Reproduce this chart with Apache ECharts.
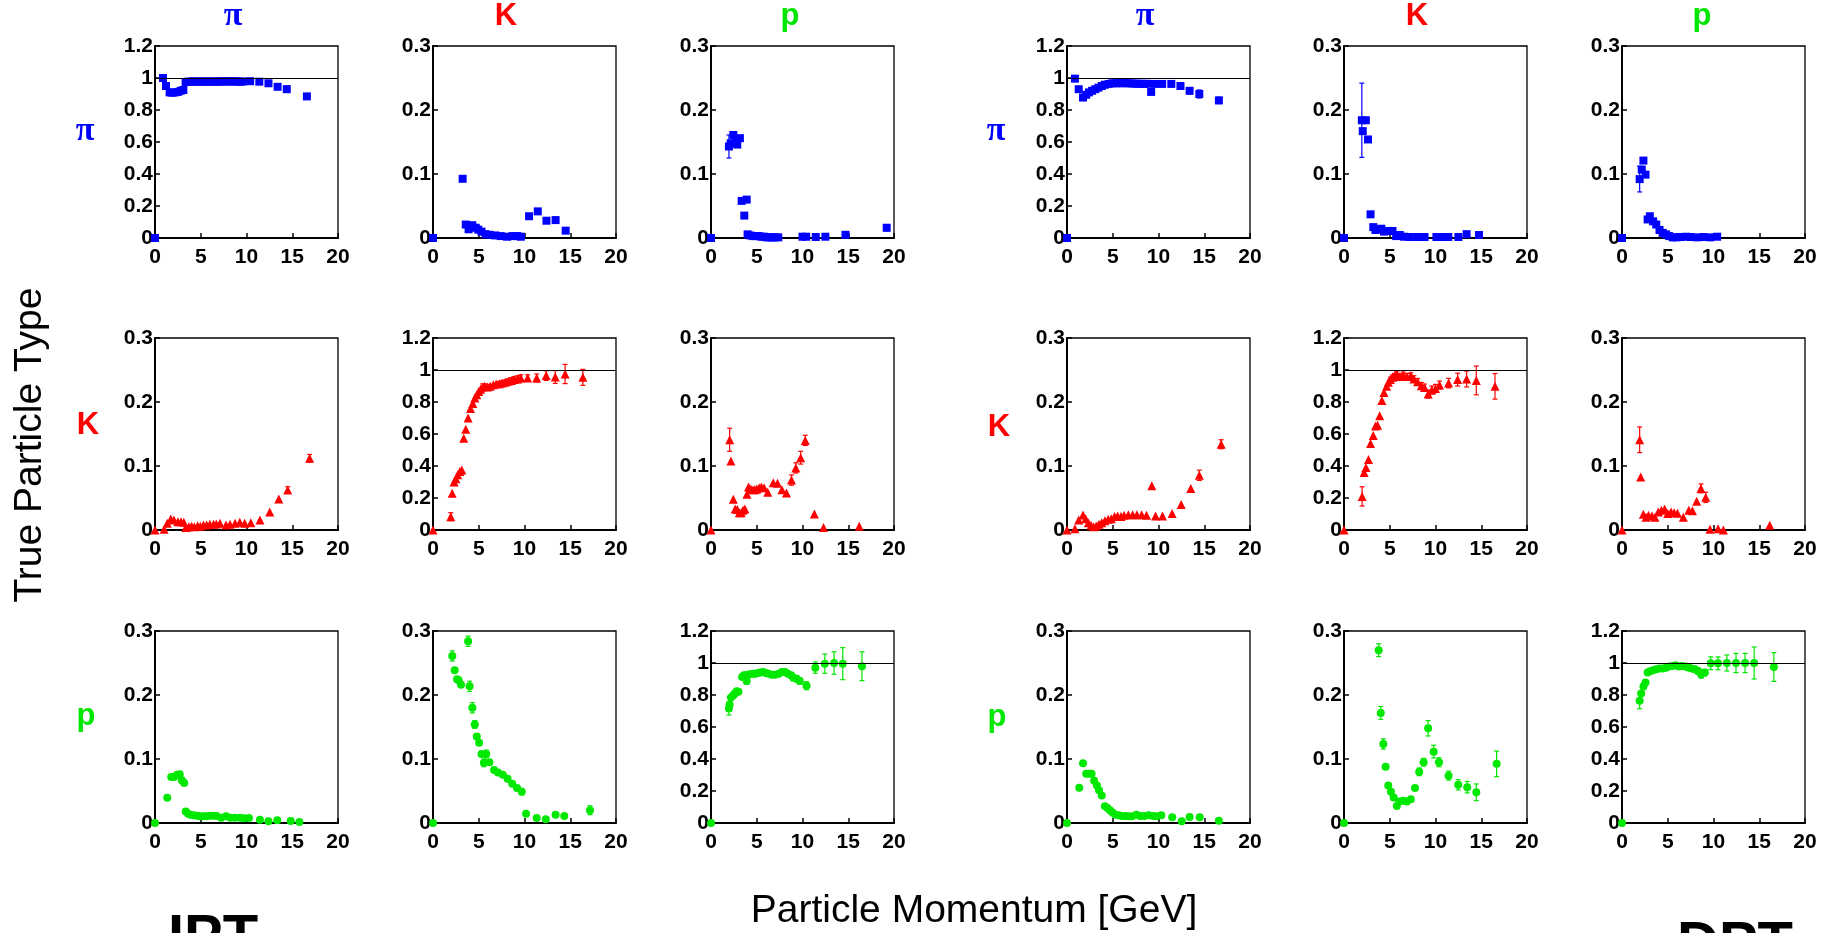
<!DOCTYPE html>
<html><head><meta charset="utf-8">
<script src="https://cdn.jsdelivr.net/npm/echarts@6/dist/echarts.min.js"></script>
<style>html,body{margin:0;padding:0;background:#fff}#c{width:1835px;height:933px}</style>
</head><body><div id="c"></div>
<script>
// ---- tick / label definitions ----
const xRange = [0, 20];
const xInterval = 5;
const yRangeDiag = [0, 1.2];
const yIntervalDiag = 0.2;
const yRangeOff = [0, 0.3];
const yIntervalOff = 0.1;
const particleLabels = ['π', 'K', 'p'];
const particleColors = ['#0000ff', '#ff0000', '#00e800'];
const particleSymbols = ['rect', 'triangle', 'circle'];
const methodLabels = ['IPT', 'DPT'];
const xTitle = 'Particle Momentum [GeV]';
const yTitle = 'True Particle Type';

// ---- data: [momentum, fraction, error] ; rows = true type, cols = identified type ----
const IPT_pi_pi = [[0,0],[0.87,1.0],[1.2,0.95],[1.6,0.91],[1.9,0.908],[2.2,0.91],[2.5,0.913],[2.8,0.92],[3.1,0.925],[3.35,0.975],[3.6,0.977],[3.85,0.977],[4.1,0.978],[4.35,0.978],[4.6,0.977],[4.85,0.978],[5.1,0.978],[5.35,0.977],[5.6,0.978],[5.85,0.978],[6.1,0.978],[6.35,0.977],[6.6,0.978],[6.85,0.978],[7.1,0.978],[7.35,0.979],[7.6,0.979],[7.85,0.978],[8.1,0.979],[8.35,0.98],[8.6,0.978],[8.85,0.979],[9.1,0.978],[9.35,0.977],[9.6,0.978],[10.4,0.98],[11.4,0.977],[12.4,0.967],[13.4,0.945,0.015],[14.4,0.93,0.02],[16.6,0.885,0.015]];
const IPT_pi_K = [[0,0],[3.24,0.0925],[3.58,0.021,0.004],[3.89,0.0136],[4.3,0.02],[4.67,0.016],[4.95,0.013],[5.3,0.01],[5.75,0.006],[6.2,0.005],[6.8,0.004],[7.4,0.003],[8.1,0.002],[8.7,0.003],[9.2,0.003],[9.6,0.002],[10.5,0.034],[11.45,0.0416],[12.4,0.027],[13.4,0.028,0.004],[14.5,0.0115]];
const IPT_pi_p = [[0,0],[1.96,0.143,0.018],[2.15,0.148],[2.44,0.161],[2.7,0.154],[2.87,0.146],[3.16,0.156],[3.35,0.058],[3.64,0.035],[3.9,0.06],[4.0,0.0057],[4.3,0.004],[4.6,0.003],[4.9,0.003],[5.2,0.003],[5.5,0.002],[5.8,0.002],[6.1,0.001],[6.4,0.001],[6.7,0.001],[7.0,0.001],[7.35,0.001],[10.0,0.002],[10.4,0.002],[11.45,0.0016],[12.5,0.002],[14.7,0.005],[19.2,0.016,0.005]];
const IPT_K_pi = [[0,0],[1.0,0.001],[1.34,0.0104],[1.72,0.017],[2.07,0.0157],[2.5,0.013],[2.84,0.013],[3.15,0.012],[3.36,0.004],[3.7,0.005],[4.0,0.006],[4.3,0.005],[4.66,0.0068],[4.96,0.006],[5.3,0.0078],[5.65,0.0078],[6.0,0.009],[6.4,0.009],[6.7,0.0094],[7.1,0.0104],[7.76,0.0078],[8.2,0.009],[8.75,0.0104],[9.27,0.012],[9.8,0.0104],[10.47,0.0115],[11.47,0.0157],[12.54,0.028],[13.53,0.0485],[14.5,0.0626,0.005],[16.9,0.112,0.006]];
const IPT_K_K = [[0,0],[1.94,0.083,0.025],[2.1,0.23],[2.3,0.30],[2.5,0.32],[2.7,0.345],[2.93,0.365],[3.15,0.375],[3.36,0.574],[3.58,0.63],[3.84,0.70],[4.1,0.76],[4.35,0.79],[4.57,0.825],[4.78,0.845],[5.0,0.866],[5.2,0.88],[5.43,0.893,0.02],[5.65,0.898,0.015],[5.95,0.893],[6.25,0.898,0.012],[6.6,0.908],[6.9,0.912],[7.24,0.914,0.014],[7.54,0.918,0.014],[7.9,0.923,0.015],[8.23,0.929,0.016],[8.58,0.935,0.017],[8.9,0.94,0.018],[9.27,0.944,0.02],[9.6,0.95,0.02],[10.34,0.95,0.02],[11.33,0.95,0.025],[12.37,0.965,0.03],[13.36,0.956,0.04],[14.44,0.975,0.06],[16.38,0.954,0.05]];
const IPT_K_p = [[0,0],[2.04,0.141,0.018],[2.18,0.108],[2.44,0.048],[2.65,0.033],[2.87,0.032],[3.1,0.027],[3.3,0.027],[3.5,0.031],[3.7,0.033],[3.93,0.056],[4.1,0.067],[4.36,0.064],[4.6,0.063],[4.8,0.063],[5.0,0.064],[5.27,0.066],[5.5,0.067],[5.8,0.066],[6.2,0.059],[6.8,0.074],[7.27,0.073],[7.75,0.063],[8.25,0.058],[8.8,0.078,0.008],[9.27,0.097,0.008],[9.8,0.113,0.01],[10.3,0.14,0.008],[11.3,0.025],[12.3,0.004],[16.2,0.006]];
const IPT_p_pi = [[0,0],[1.34,0.0396],[1.77,0.072],[2.07,0.072],[2.41,0.0755],[2.7,0.076],[2.93,0.0667],[3.19,0.0625],[3.36,0.018],[3.62,0.0146],[3.88,0.013],[4.22,0.012],[4.57,0.0115],[4.91,0.0104],[5.26,0.0104],[5.6,0.0104],[5.95,0.0115],[6.38,0.0115],[6.72,0.011],[7.24,0.0083],[7.76,0.0104],[8.23,0.0083],[8.75,0.0083],[9.27,0.0083],[9.74,0.0073],[10.26,0.0078],[11.47,0.0052],[12.4,0.0026],[13.36,0.0042],[14.83,0.0031],[15.78,0.0016]];
const IPT_p_K = [[0,0],[2.11,0.261,0.008],[2.37,0.2385],[2.63,0.2245],[2.8,0.223],[3.06,0.216],[3.84,0.284,0.008],[4.0,0.2135,0.008],[4.3,0.18,0.008],[4.57,0.154,0.006],[4.78,0.135],[5.04,0.1255],[5.3,0.108],[5.56,0.094,0.006],[5.82,0.108,0.006],[6.16,0.095],[6.68,0.083],[7.1,0.079],[7.63,0.0755],[8.15,0.069],[8.66,0.0615],[9.18,0.0547],[9.7,0.049,0.005],[10.17,0.0146],[11.34,0.0078],[12.33,0.0057],[13.4,0.013],[14.35,0.011],[17.16,0.02,0.007]];
const IPT_p_p = [[0,0],[1.96,0.715,0.04],[2.04,0.74],[2.18,0.785],[2.44,0.798],[2.6,0.81],[2.8,0.823],[3.0,0.82],[3.4,0.912],[3.6,0.923],[3.9,0.887,0.02],[4.0,0.927],[4.25,0.93],[4.6,0.933],[4.84,0.933],[5.13,0.9375],[5.4,0.94],[5.7,0.944,0.012],[6.0,0.9375,0.012],[6.3,0.933,0.012],[6.65,0.927,0.012],[7.0,0.927,0.012],[7.4,0.933,0.013],[7.75,0.944,0.015],[8.1,0.944,0.015],[8.4,0.933,0.016],[8.76,0.923,0.017],[9.0,0.908,0.018],[9.35,0.902,0.02],[9.7,0.8875,0.02],[10.44,0.858,0.025],[11.4,0.971,0.035],[12.44,0.996,0.06],[13.45,1.0,0.07],[14.4,0.996,0.1],[16.5,0.98,0.09]];

const DPT_pi_pi = [[0,0],[0.87,0.996],[1.28,0.93],[1.75,0.878],[2.1,0.895],[2.4,0.91],[2.74,0.92],[3.1,0.93],[3.44,0.94],[3.8,0.95],[4.14,0.958],[4.55,0.963],[4.96,0.967],[5.3,0.967],[5.65,0.968],[6.0,0.967],[6.35,0.968],[6.7,0.967],[7.05,0.966],[7.4,0.965],[7.75,0.964],[8.1,0.964],[8.45,0.963],[8.75,0.964],[9.2,0.913],[9.6,0.963],[10.4,0.963],[11.4,0.963],[12.4,0.95],[13.4,0.92,0.02],[14.46,0.9,0.025],[16.6,0.86,0.02]];
const DPT_pi_K = [[0,0],[1.95,0.184,0.058],[2.05,0.167],[2.39,0.184],[2.62,0.154],[2.9,0.037],[3.2,0.017],[3.44,0.0125],[3.8,0.0135],[4.08,0.0145],[4.37,0.01],[4.84,0.011],[5.3,0.011],[5.7,0.003],[6.1,0.0047],[6.56,0.002],[7.2,0.0016],[8.05,0.0016],[8.8,0.0016],[10.1,0.0016],[10.7,0.0016],[11.4,0.0016],[12.5,0.0016],[13.4,0.006],[14.75,0.0047]];
const DPT_pi_p = [[0,0],[1.93,0.092,0.02],[2.16,0.107],[2.34,0.121],[2.57,0.099],[2.8,0.029],[3.04,0.034],[3.4,0.026],[3.74,0.021],[4.1,0.0125],[4.44,0.008],[4.8,0.0057],[5.15,0.003],[5.55,0.001],[5.96,0.001],[6.4,0.0016],[7.0,0.002],[7.5,0.0016],[8.2,0.001],[8.9,0.0016],[9.65,0.001],[10.4,0.002]];
const DPT_K_pi = [[0,0],[0.87,0.002],[1.28,0.0157],[1.75,0.0235],[2.04,0.0177],[2.33,0.0115],[2.62,0.0073],[2.9,0.0052],[3.2,0.0063],[3.5,0.0089],[3.8,0.0115],[4.14,0.0146],[4.5,0.0167],[4.84,0.0177],[5.2,0.021],[5.54,0.022],[5.9,0.021],[6.24,0.023],[6.7,0.024],[7.17,0.024],[7.64,0.024],[8.16,0.024],[8.69,0.023],[9.27,0.069],[9.68,0.022],[10.44,0.022],[11.49,0.0256],[12.48,0.04],[13.53,0.065],[14.46,0.0855,0.008],[16.85,0.134,0.007]];
const DPT_K_K = [[0,0],[1.98,0.21,0.06],[2.2,0.36],[2.4,0.39],[2.68,0.44],[2.9,0.54],[3.2,0.59],[3.44,0.65],[3.67,0.655],[3.9,0.714],[4.14,0.81],[4.37,0.86],[4.66,0.898],[4.84,0.923],[5.07,0.94,0.015],[5.3,0.954,0.015],[5.54,0.964,0.015],[5.77,0.975,0.018],[6.1,0.96,0.015],[6.47,0.969,0.018],[6.88,0.96,0.018],[7.3,0.964,0.018],[7.64,0.944,0.02],[8.05,0.927,0.02],[8.45,0.902,0.02],[8.8,0.89,0.022],[9.2,0.85,0.025],[9.6,0.875,0.025],[10.0,0.885,0.025],[10.44,0.906,0.025],[11.43,0.918,0.03],[12.42,0.94,0.04],[13.4,0.944,0.05],[14.46,0.935,0.09],[16.5,0.898,0.08]];
const DPT_K_p = [[0,0],[1.93,0.141,0.02],[2.04,0.083],[2.33,0.0245],[2.62,0.02],[2.9,0.023],[3.27,0.022],[3.6,0.02],[3.96,0.028],[4.3,0.031],[4.66,0.033],[5.0,0.0256],[5.36,0.028],[5.7,0.027],[6.06,0.026],[6.7,0.02],[7.3,0.031],[7.7,0.03],[8.16,0.045],[8.63,0.065,0.007],[9.15,0.051,0.008],[9.62,0.001],[10.5,0.002],[11.08,0],[16.15,0.0073]];
const DPT_p_pi = [[0,0],[1.34,0.055],[1.75,0.0934],[2.1,0.077],[2.4,0.077],[2.68,0.077],[2.97,0.066],[3.27,0.0586],[3.5,0.051],[3.8,0.043],[4.14,0.026],[4.43,0.0234],[4.72,0.0197],[5.0,0.016],[5.3,0.013],[5.66,0.012],[6.0,0.011],[6.36,0.011],[6.7,0.0104],[7.1,0.0104],[7.58,0.013],[8.0,0.011],[8.45,0.011],[8.92,0.012],[9.4,0.011],[9.8,0.0104],[10.3,0.012],[11.5,0.0088],[12.54,0.0026],[13.4,0.0093],[14.5,0.0088],[16.6,0.0036]];
const DPT_p_K = [[0,0],[3.79,0.27,0.01],[4.02,0.172,0.01],[4.3,0.1235,0.008],[4.55,0.088],[4.84,0.0586],[5.13,0.049],[5.42,0.04],[5.77,0.0265],[6.06,0.0337],[6.47,0.0348],[6.88,0.0337],[7.3,0.037],[7.76,0.0545],[8.22,0.08,0.006],[8.7,0.095,0.006],[9.2,0.148,0.012],[9.8,0.1115,0.01],[10.38,0.095,0.007],[11.43,0.074,0.007],[12.48,0.0597,0.008],[13.47,0.056,0.009],[14.46,0.048,0.013],[16.68,0.0924,0.02]];
const DPT_p_p = [[0,0],[1.93,0.764,0.05],[2.1,0.81],[2.34,0.853],[2.57,0.878],[2.8,0.94],[3.04,0.949],[3.4,0.955],[3.74,0.961],[4.1,0.965],[4.44,0.965],[4.8,0.97],[5.15,0.978,0.012],[5.5,0.982,0.012],[5.85,0.986,0.013],[6.2,0.978,0.013],[6.55,0.982,0.014],[6.9,0.978,0.015],[7.25,0.972,0.015],[7.6,0.965,0.016],[7.95,0.961,0.018],[8.3,0.95,0.02],[8.65,0.93,0.025],[9.06,0.94,0.02],[9.7,0.9985,0.04],[10.5,0.998,0.04],[11.46,1.0,0.05],[12.46,1.0,0.06],[13.45,1.0,0.06],[14.44,1.0,0.1],[16.6,0.975,0.09]];

const panelData = [
  [[IPT_pi_pi, IPT_pi_K, IPT_pi_p], [IPT_K_pi, IPT_K_K, IPT_K_p], [IPT_p_pi, IPT_p_K, IPT_p_p]],
  [[DPT_pi_pi, DPT_pi_K, DPT_pi_p], [DPT_K_pi, DPT_K_K, DPT_K_p], [DPT_p_pi, DPT_p_K, DPT_p_p]]
];

// ---- layout ----
const colLeft = [[155, 433, 711], [1067, 1344, 1622]];
const rowTop = [46, 338, 631];
const PW = 183, PH = 192;

const grids = [], xAxes = [], yAxes = [], series = [];
const tickFont = {fontFamily: 'Liberation Sans', fontWeight: 'bold', fontSize: 21, color: '#000'};

for (let m = 0; m < 2; m++) {
  for (let r = 0; r < 3; r++) {
    for (let c = 0; c < 3; c++) {
      const gi = grids.length;
      const diag = r === c;
      grids.push({left: colLeft[m][c], top: rowTop[r], width: PW, height: PH,
        show: true, borderColor: '#000', borderWidth: 1.3, backgroundColor: 'rgba(0,0,0,0)', containLabel: false});
      xAxes.push({gridIndex: gi, type: 'value', min: xRange[0], max: xRange[1], interval: xInterval,
        axisLine: {show: true, onZero: false, lineStyle: {color: '#000', width: 2}},
        axisTick: {show: true, inside: true, length: 5, lineStyle: {color: '#000', width: 1.5}},
        axisLabel: Object.assign({margin: 9}, tickFont),
        splitLine: {show: false}});
      const yr = diag ? yRangeDiag : yRangeOff;
      yAxes.push({gridIndex: gi, type: 'value', min: yr[0], max: yr[1], interval: diag ? yIntervalDiag : yIntervalOff,
        axisLine: {show: true, onZero: false, lineStyle: {color: '#000', width: 2}},
        axisTick: {show: true, inside: true, length: 5, lineStyle: {color: '#000', width: 1.5}},
        axisLabel: Object.assign({margin: 2, formatter: v => String(+(+v).toFixed(2))}, tickFont),
        splitLine: {show: false}});
      const pts = panelData[m][r][c];
      const color = particleColors[r];
      const s = {type: 'scatter', xAxisIndex: gi, yAxisIndex: gi, symbol: particleSymbols[r],
        symbolSize: r === 1 ? 9 : 8, itemStyle: {color: color, opacity: 1}, z: 3, clip: false,
        data: pts.map(p => [p[0], p[1]]), silent: true};
      if (diag) {
        s.markLine = {silent: true, symbol: 'none', label: {show: false}, animation: false,
          lineStyle: {color: '#000', width: 1.2, type: 'solid'}, emphasis: {disabled: true},
          data: [{yAxis: 1}]};
      }
      series.push(s);
      const errs = pts.filter(p => p[2]).map(p => [p[0], p[1] - p[2], p[1] + p[2]]);
      if (errs.length) {
        series.push({type: 'custom', xAxisIndex: gi, yAxisIndex: gi, z: 2, silent: true, data: errs,
          renderItem: (params, api) => {
            const x = api.value(0);
            const lo = api.coord([x, api.value(1)]);
            const hi = api.coord([x, api.value(2)]);
            const st = {stroke: color, lineWidth: 1.2};
            return {type: 'group', children: [
              {type: 'line', shape: {x1: lo[0], y1: lo[1], x2: hi[0], y2: hi[1]}, style: st},
              {type: 'line', shape: {x1: lo[0] - 2.5, y1: lo[1], x2: lo[0] + 2.5, y2: lo[1]}, style: st},
              {type: 'line', shape: {x1: hi[0] - 2.5, y1: hi[1], x2: hi[0] + 2.5, y2: hi[1]}, style: st}
            ]};
          }});
      }
    }
  }
}

// ---- text graphics ----
const graphics = [];
function txt(text, x, y, font, fill, rot) {
  graphics.push({type: 'text', x: x, y: y, rotation: rot || 0, silent: true,
    style: {text: text, font: font, fill: fill, align: 'center', verticalAlign: 'middle',
      textAlign: 'center', textVerticalAlign: 'middle'}});
}
const piFont = 'bold 34px "Liberation Serif"';
const lblFont = 'bold 31px "Liberation Sans"';
const colTitleX = [[233, 506, 790], [1145, 1417, 1702]];
const rowLabelX = [[85, 88, 86], [996, 999, 997]];
const rowLabelY = [[131, 425, 716], [131, 427, 717]];
for (let m = 0; m < 2; m++) {
  for (let k = 0; k < 3; k++) {
    const f = k === 0 ? piFont : lblFont;
    txt(particleLabels[k], colTitleX[m][k], 16, f, particleColors[k]);
    txt(particleLabels[k], rowLabelX[m][k], rowLabelY[m][k], f, particleColors[k]);
  }
}
txt(yTitle, 30, 445, '39px "Liberation Sans"', '#000', Math.PI / 2);
txt(xTitle, 974, 911, '39px "Liberation Sans"', '#000');
txt(methodLabels[0], 213, 939, 'bold 58px "Liberation Sans"', '#000');
txt(methodLabels[1], 1735, 946, 'bold 58px "Liberation Sans"', '#000');

const chart = echarts.init(document.getElementById('c'), null, {renderer: 'canvas'});
chart.setOption({animation: false, backgroundColor: '#fff', grid: grids, xAxis: xAxes, yAxis: yAxes,
  series: series, graphic: graphics});
</script></body></html>
